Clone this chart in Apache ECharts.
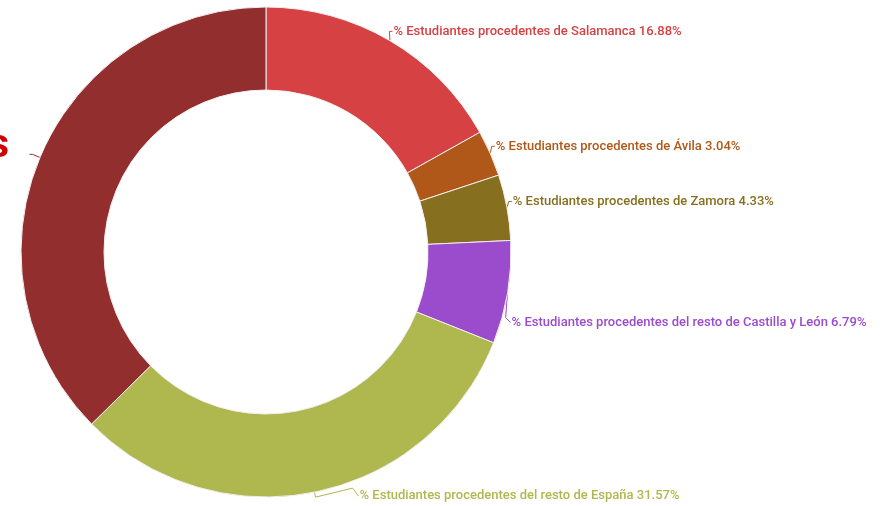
<!DOCTYPE html>
<html>
<head>
<meta charset="utf-8">
<script src="https://cdn.jsdelivr.net/npm/echarts@6/dist/echarts.min.js"></script>
<style>
  html, body { margin: 0; padding: 0; background: #fff; }
  #chart { width: 892px; height: 506px; }
</style>
</head>
<body>
<div id="chart"></div>
<script>
// datos
const categories = [
  '% Estudiantes procedentes de Salamanca',
  '% Estudiantes procedentes de Ávila',
  '% Estudiantes procedentes de Zamora',
  '% Estudiantes procedentes del resto de Castilla y León',
  '% Estudiantes procedentes del resto de España',
  '% Estudiantes extranjeros'
]
const values = [16.88, 3.04, 4.33, 6.79, 31.57, 37.39]
const colors = ['#d64143', '#b0581a', '#866f1f', '#9a4ccc', '#aeb84e', '#922e2e']

const chart = echarts.init(document.getElementById('chart'))

const data = categories.map((name, i) => {
  const item = {
    name,
    value: values[i],
    itemStyle: { color: colors[i] },
    label: { color: colors[i] },
    labelLine: { lineStyle: { color: colors[i] } }
  }
  if (i === 5) {
    // etiqueta cortada a la izquierda
    item.label = { formatter: ' ', color: colors[i] }
    item.labelLine = { length: 8, length2: 3, lineStyle: { color: colors[i] } }
  }
  return item
})

// recolocar etiquetas como en el original
const moveLabel = (params) => {
  const pts = params.labelLinePoints
  if (!pts) return
  const p0 = pts[0]
  const r = params.labelRect
  const i = params.dataIndex
  if (i <= 2) {
    const end = pts[pts.length - 1]
    const ex = end[0] - 3
    const ey = end[1] - 5
    return {
      dx: -3,
      dy: -5,
      labelLinePoints: [p0, [ex - 3, ey], [ex, ey]]
    }
  }
  if (i === 3) {
    const tx = p0[0] + 4
    const ty = p0[1] + 30
    return {
      dx: tx - r.x,
      dy: ty - (r.y + r.height / 2),
      labelLinePoints: [p0, [p0[0] - 2, p0[1] + 25], [p0[0] + 3, ty]]
    }
  }
  if (i === 4) {
    const tx = p0[0] + 45
    const ty = p0[1] + 4
    return {
      dx: tx - r.x,
      dy: ty - (r.y + r.height / 2),
      labelLinePoints: [p0, [p0[0] + 1, p0[1] + 5], [p0[0] + 38, p0[1] - 4], [p0[0] + 44, ty]]
    }
  }
}

chart.setOption({
  backgroundColor: '#fff',
  animation: false,
  graphic: [
    {
      type: 'text',
      right: 883,
      top: 127,
      style: {
        text: 's',
        fill: '#cc0000',
        fontSize: 40,
        fontWeight: 'bold',
        fontFamily: 'Roboto'
      }
    }
  ],
  series: [
    {
      type: 'pie',
      center: [266, 252],
      radius: [162, 245],
      startAngle: 90,
      clockwise: true,
      itemStyle: {
        borderColor: '#f4eeee',
        borderWidth: 1
      },
      label: {
        formatter: '{b} {c}%',
        fontFamily: 'Roboto',
        fontSize: 13,
        fontWeight: 500,
        distanceToLabelLine: 1
      },
      labelLine: {
        length: 5,
        length2: 3,
        lineStyle: { width: 1 }
      },
      labelLayout: moveLabel,
      data: data
    }
  ]
})
</script>
</body>
</html>
